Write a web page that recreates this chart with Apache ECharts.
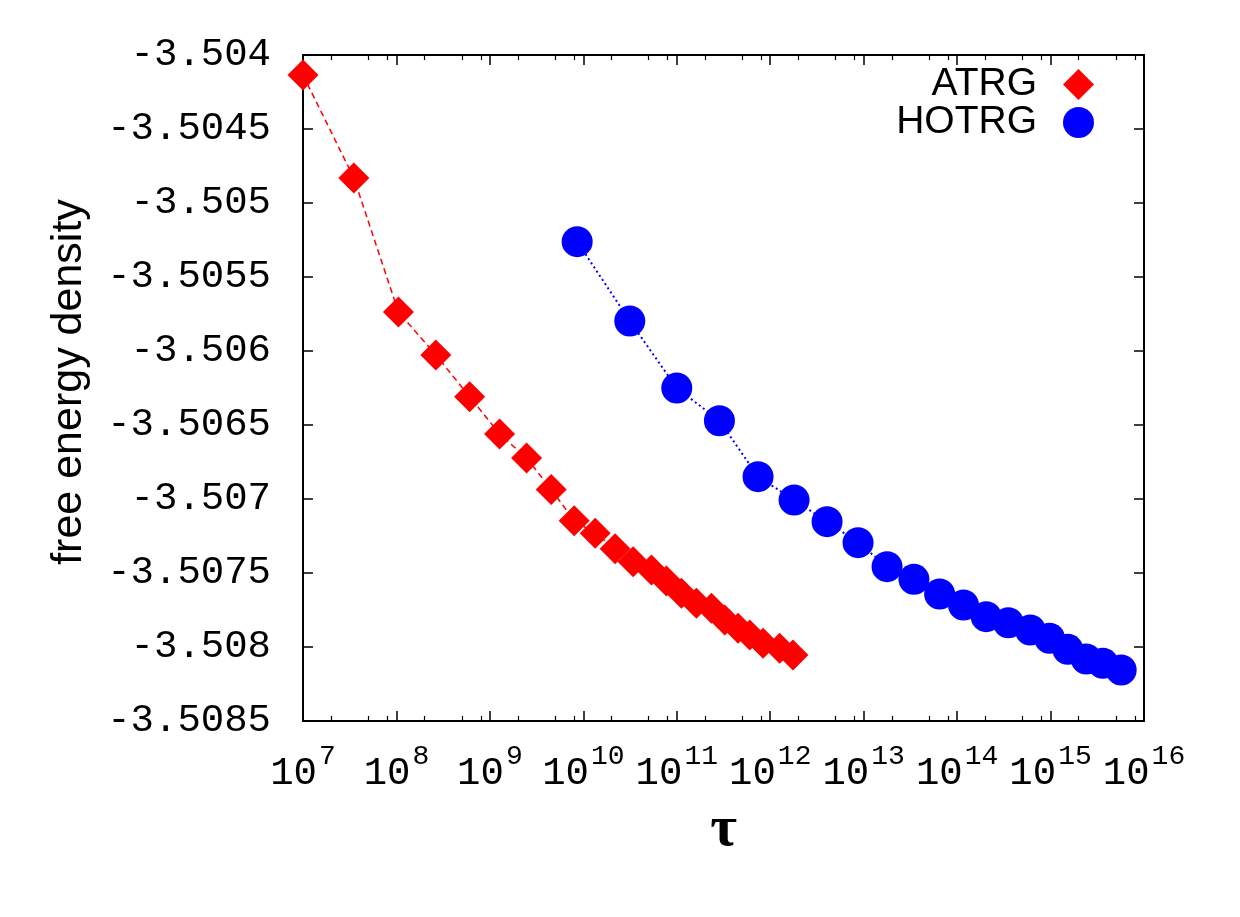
<!DOCTYPE html>
<html>
<head>
<meta charset="utf-8">
<script src="https://cdn.jsdelivr.net/npm/echarts@6/dist/echarts.min.js"></script>
<style>
  html, body { margin: 0; padding: 0; background: #fff; }
  #chart { width: 1240px; height: 917px; }
</style>
</head>
<body>
<div id="chart"></div>
<script>
// ATRG: tau vs free energy density
const atrgTau = [1.0e7, 3.5e7, 1.05e8, 2.64e8, 6.07e8, 1.27e9, 2.47e9, 4.53e9, 7.98e9,
  1.34e10, 2.19e10, 3.41e10, 5.36e10, 7.75e10, 1.12e11, 1.62e11, 2.35e11, 3.26e11,
  4.53e11, 6.04e11, 8.38e11, 1.26e12, 1.75e12];
const atrgF = [-3.504135, -3.504831, -3.505736, -3.506027, -3.506309, -3.506561, -3.506723,
  -3.506935, -3.507147, -3.507232, -3.507336, -3.507424, -3.507480, -3.507554, -3.507637,
  -3.507705, -3.507739, -3.507818, -3.507874, -3.507919, -3.507975, -3.508009, -3.508054];

// HOTRG
const hotrgTau = [8.59e9, 3.14e10, 1.0e11, 2.86e11, 7.41e11, 1.80e12, 4.06e12, 8.71e12,
  1.78e13, 3.45e13, 6.50e13, 1.17e14, 2.05e14, 3.53e14, 6.07e14, 9.75e14, 1.53e15,
  2.41e15, 3.63e15, 5.70e15];
const hotrgF = [-3.505261, -3.505797, -3.506250, -3.506471, -3.506849, -3.507007, -3.507153,
  -3.507295, -3.507457, -3.507543, -3.507642, -3.507716, -3.507795, -3.507836, -3.507885,
  -3.507941, -3.508016, -3.508081, -3.508110, -3.508155];

// tick labels
const xExponents = [7, 8, 9, 10, 11, 12, 13, 14, 15, 16];
const xMinorSteps = [2, 5, 8];
const yTickLabels = ['-3.504', '-3.5045', '-3.505', '-3.5055', '-3.506', '-3.5065',
  '-3.507', '-3.5075', '-3.508', '-3.5085'];

const xMin = Math.pow(10, xExponents[0]);
const xMax = Math.pow(10, xExponents[xExponents.length - 1]);
const minorTicks = [];
xExponents.slice(0, -1).forEach(e => xMinorSteps.forEach(m => minorTicks.push(m * Math.pow(10, e))));

const black = '#000';
const monoFont = '"Liberation Mono", "DejaVu Sans Mono", monospace';
const sansFont = '"Liberation Sans", Arial, sans-serif';

function zip(xs, ys) { return xs.map((x, i) => [x, ys[i]]); }

function xAxisBase(position, showLabel) {
  return {
    type: 'log',
    logBase: 10,
    position: position,
    min: xMin,
    max: xMax,
    axisLine: { show: true, onZero: false, lineStyle: { color: black, width: 2 } },
    axisTick: { inside: true, length: 10, lineStyle: { color: black, width: 1.5 } },
    splitLine: { show: false },
    axisLabel: showLabel ? {
      margin: 22,
      formatter: v => {
        const e = Math.round(Math.log10(v));
        return xExponents.includes(e) ? '{b|10}{s|' + e + '}' : '';
      },
      rich: {
        b: { fontFamily: monoFont, fontSize: 39, color: black, verticalAlign: 'bottom' },
        s: { fontFamily: monoFont, fontSize: 28, color: black, verticalAlign: 'bottom', padding: [0, 0, 22, 2] }
      }
    } : { show: false }
  };
}

function xMinorAxis(position) {
  return {
    type: 'log',
    logBase: 10,
    position: position,
    min: xMin,
    max: xMax,
    axisLine: { show: false, onZero: false },
    axisTick: { inside: true, length: 5, customValues: minorTicks, lineStyle: { color: black, width: 1.2 } },
    axisLabel: { show: false },
    splitLine: { show: false }
  };
}

function yAxisBase(position, showLabel) {
  return {
    type: 'value',
    position: position,
    min: -3.5085,
    max: -3.504,
    interval: 0.0005,
    axisLine: { show: true, onZero: false, lineStyle: { color: black, width: 2 } },
    axisTick: { inside: true, length: 10, lineStyle: { color: black, width: 1.5 } },
    splitLine: { show: false },
    axisLabel: showLabel ? {
      margin: 32,
      fontFamily: monoFont,
      fontSize: 39,
      color: black,
      formatter: v => yTickLabels.find(t => Math.abs(parseFloat(t) - v) < 1e-7) || ''
    } : { show: false }
  };
}

const chart = echarts.init(document.getElementById('chart'), null, { renderer: 'canvas' });

const xMain = xAxisBase('bottom', true);
xMain.name = 'τ';
xMain.nameLocation = 'middle';
xMain.nameGap = 80;
xMain.nameTextStyle = { fontFamily: '"Liberation Serif", "DejaVu Serif", serif', fontSize: 58, fontWeight: 'bold', color: black };

const yMain = yAxisBase('left', true);
yMain.name = 'free energy density';
yMain.nameLocation = 'middle';
yMain.nameGap = 212;
yMain.nameRotate = 90;
yMain.nameTextStyle = { fontFamily: sansFont, fontSize: 43, color: black, padding: [0, 0, 0, 12] };

const option = {
  backgroundColor: '#fff',
  animation: false,
  grid: { left: 303, right: 96, top: 55, bottom: 196, containLabel: false },
  legend: {
    orient: 'vertical',
    align: 'right',
    right: 141,
    top: 60,
    itemWidth: 31,
    itemHeight: 31,
    itemGap: -1,
    textStyle: { fontFamily: sansFont, fontSize: 39, color: black, padding: [0, 21, 0, 0] },
    data: [
      { name: 'ATRG', icon: 'diamond' },
      { name: 'HOTRG', icon: 'circle' }
    ]
  },
  xAxis: [xMain, xAxisBase('top', false), xMinorAxis('bottom'), xMinorAxis('top')],
  yAxis: [yMain, yAxisBase('right', false)],
  series: [
    {
      name: 'ATRG',
      type: 'line',
      data: zip(atrgTau, atrgF),
      symbol: 'diamond',
      symbolSize: 31,
      itemStyle: { color: '#ff0000' },
      lineStyle: { color: '#ff0000', width: 1.5, type: [6, 4] },
      clip: false,
      z: 3
    },
    {
      name: 'HOTRG',
      type: 'line',
      data: zip(hotrgTau, hotrgF),
      symbol: 'circle',
      symbolSize: 31,
      itemStyle: { color: '#0000ff' },
      lineStyle: { color: '#0000ff', width: 2, type: [2, 3] },
      clip: false,
      z: 3
    }
  ]
};

chart.setOption(option);
window.addEventListener('resize', chart.resize);
</script>
</body>
</html>
